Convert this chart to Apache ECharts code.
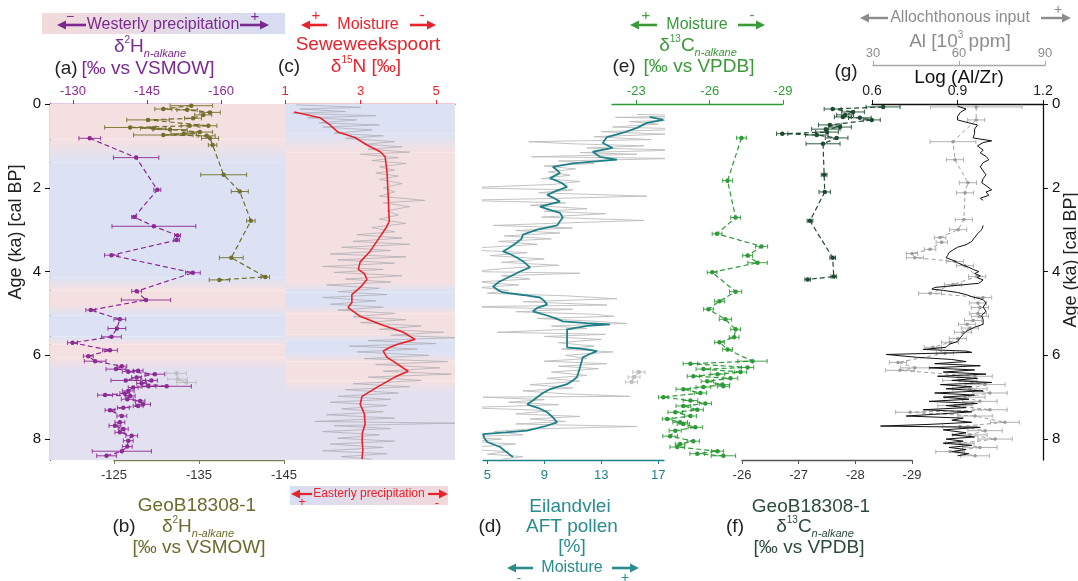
<!DOCTYPE html>
<html><head><meta charset="utf-8">
<script src="https://cdn.jsdelivr.net/npm/echarts@6/dist/echarts.min.js"></script>
<style>html,body{margin:0;padding:0;background:#fff}#c{width:1078px;height:581px}</style>
</head><body><div id="c"></div>
<script>
// ---------------- DATA ----------------
const ageTicks = [0, 2, 4, 6, 8];
const tickA = [-130, -145, -160];
const tickB = [-125, -135, -145];
const tickC = [1, 3, 5];
const tickD = [5, 9, 13, 17];
const tickE = [-23, -26, -29];
const tickF = [-26, -27, -28, -29];
const tickLog = [0.6, 0.9, 1.2];
const tickAl = [30, 60, 90];

// background shading (age stops and colour keys)
const bandAStops = [0, 0.85, 1.4, 4.15, 4.45, 4.8, 5.05, 5.55, 5.75, 6.05, 6.35, 8.5];
const bandAKeys  = ['P','P','B','B','P','P','B','B','P','P','L','L'];
const bandCStops = [0, 0.7, 1.15, 4.25, 4.5, 4.8, 5.0, 5.5, 5.65, 5.95, 6.15, 6.6, 6.9, 8.5];
const bandCKeys  = ['B','B','P','P','B','B','P','P','B','B','P','P','L','L'];

// (a) Westerly dD n-alkane
const aAge = [0.82,1.28,2.05,2.70,2.92,3.14,3.25,3.61,4.03,4.47,4.68,4.92,5.14,5.36,5.56,5.70,5.88,6.02,6.14,6.26,6.33,6.37,6.39,6.45,6.53,6.60,6.60,6.67,6.74,6.74,6.77,6.85,6.91,6.95,6.97,7.05,7.09,7.17,7.21,7.25,7.31,7.45,7.60,7.68,7.76,7.84,7.92,8.04,8.18,8.29,8.40];
const aVal = [-133.4,-142.8,-147.1,-142.4,-146.4,-151.2,-151.0,-137.8,-154.3,-142.9,-144.8,-133.6,-139.5,-138.9,-137.8,-129.9,-137.5,-133.1,-134.5,-139.9,-138.7,-143.2,-141.2,-146.6,-142.9,-140.7,-145.9,-143.9,-149.0,-145.3,-142.2,-141.2,-140.5,-136.5,-141.6,-141.0,-143.6,-144.2,-143.2,-140.2,-137.5,-139.9,-139.5,-138.5,-140.2,-139.5,-141.9,-141.2,-141.0,-139.9,-136.8];
const aErr = [2.2,4.6,0.7,0.5,8.5,0.6,0.6,1.4,1.5,1.0,5.0,1.0,1.2,1.8,2.0,1.0,1.5,1.0,2.2,1.0,2.0,1.0,1.2,2.0,1.0,3.0,1.2,1.0,5.0,1.5,1.0,1.2,1.0,1.5,1.0,1.2,1.0,1.5,1.0,1.2,1.0,1.0,1.0,1.2,1.0,1.0,1.2,1.0,1.0,6.0,2.0];
const aExAge = [6.43, 6.57, 6.65];
const aExVal = [-151.0, -151.2, -153.0];
const aExErr = [2.0, 2.0, 2.0];

// (b) GeoB18308-1 dD n-alkane
const bAge = [0.04,0.12,0.14,0.20,0.26,0.34,0.38,0.52,0.52,0.56,0.58,0.61,0.67,0.71,0.74,0.76,0.82,0.98,1.69,2.09,2.79,3.67,4.13,4.20];
const bVal = [-134.1,-130.8,-133.6,-136.3,-135.5,-134.3,-129.0,-136.1,-133.9,-126.9,-129.6,-131.6,-135.1,-133.2,-130.8,-135.9,-136.3,-136.6,-137.9,-139.8,-141.1,-138.8,-142.8,-137.4];
const bErr = [2.5,1.0,1.2,1.2,1.0,1.0,2.5,1.0,1.0,3.0,1.5,2.0,1.5,1.5,3.5,1.0,1.0,0.5,2.7,1.0,0.5,1.4,0.5,1.2];

// (c) Seweweekspoort d15N : raw and smoothed
const cRawAge = [0.02,0.08,0.12,0.18,0.22,0.28,0.33,0.38,0.45,0.5,0.55,0.62,0.7,0.76,0.82,0.9,0.96,1.02,1.08,1.15,1.2,1.28,1.35,1.42,1.5,1.58,1.65,1.72,1.8,1.9,2.0,2.1,2.2,2.3,2.36,2.45,2.55,2.65,2.75,2.85,2.95,3.05,3.12,3.2,3.28,3.35,3.42,3.5,3.58,3.65,3.72,3.8,3.88,3.95,4.02,4.1,4.18,4.25,4.32,4.4,4.48,4.55,4.62,4.7,4.78,4.85,4.92,5.0,5.08,5.15,5.22,5.3,5.38,5.45,5.52,5.58,5.65,5.72,5.78,5.85,5.92,6.0,6.08,6.15,6.22,6.3,6.38,6.45,6.52,6.6,6.68,6.75,6.82,6.9,6.98,7.05,7.12,7.2,7.28,7.35,7.42,7.5,7.58,7.62,7.68,7.75,7.82,7.9,7.98,8.05,8.12,8.2,8.28,8.35,8.42,8.48];
const cRawVal = [1.3,3.0,1.4,2.6,1.2,3.4,1.6,2.9,1.9,3.5,2.0,3.3,2.3,3.6,2.6,3.9,3.1,4.1,3.2,4.3,3.0,4.0,3.3,4.2,3.5,3.9,3.4,4.0,3.5,4.1,3.6,3.9,3.5,4.7,3.6,4.3,3.7,4.0,3.5,4.2,3.3,3.9,2.9,4.1,2.8,4.3,2.5,3.8,2.2,4.2,2.4,3.9,2.0,3.6,2.3,4.1,2.6,3.8,2.1,3.5,2.4,3.7,2.0,3.4,2.2,3.6,2.4,3.9,2.8,4.2,3.0,4.6,3.5,5.2,3.8,5.5,3.2,5.0,2.7,4.5,2.9,4.8,3.1,5.3,3.4,5.1,3.6,5.4,3.2,4.6,2.8,4.3,2.6,4.0,2.4,3.8,2.2,3.7,2.5,3.6,2.1,3.9,1.8,5.5,2.3,3.8,2.0,3.5,2.4,3.9,2.2,3.6,2.0,3.7,2.5,3.3];
const cAge = [0.19,0.33,0.50,0.67,0.80,0.98,1.14,1.26,1.62,2.17,2.80,2.95,3.28,3.52,3.77,3.95,4.05,4.19,4.38,4.55,4.74,4.86,5.07,5.26,5.45,5.62,5.74,5.82,5.90,6.05,6.14,6.38,6.52,6.76,6.98,7.17,7.40,7.64,7.85,8.05,8.25,8.48];
const cVal = [1.24,1.93,2.19,2.40,2.85,3.17,3.52,3.65,3.70,3.73,3.76,3.68,3.43,3.25,2.99,2.94,3.10,3.17,2.99,2.77,2.77,2.67,2.99,3.52,4.13,4.44,3.96,3.75,3.60,3.70,3.86,4.26,3.91,3.44,3.04,2.99,3.10,3.12,3.05,3.04,3.06,3.04];

// (d) Eilandvlei AFT pollen : raw and smoothed
const dRawAge = [0.25,0.28,0.32,0.36,0.42,0.48,0.55,0.6,0.66,0.72,0.78,0.85,0.9,0.95,1.0,1.05,1.1,1.16,1.2,1.26,1.3,1.36,1.42,1.48,1.55,1.62,1.7,1.78,1.85,1.92,2.0,2.05,2.12,2.2,2.26,2.3,2.36,2.42,2.5,2.56,2.62,2.7,2.78,2.85,2.9,2.96,3.02,3.08,3.15,3.22,3.28,3.35,3.42,3.47,3.55,3.62,3.7,3.78,3.85,3.92,4.0,4.04,4.1,4.18,4.25,4.32,4.38,4.45,4.52,4.58,4.65,4.72,4.8,4.84,4.9,4.96,5.02,5.07,5.12,5.18,5.24,5.3,5.36,5.45,5.5,5.55,5.62,5.7,5.78,5.85,5.92,6.0,6.08,6.14,6.2,6.26,6.32,6.4,6.48,6.55,6.62,6.7,6.78,6.85,6.92,6.98,7.0,7.06,7.12,7.18,7.25,7.32,7.4,7.46,7.52,7.58,7.64,7.7,7.76,7.82,7.9,7.95,8.0,8.06,8.12,8.18,8.24,8.3,8.36,8.42,8.48];
const dRawVal = [15.5,20.0,14.0,21.0,15.0,17.0,13.8,19.5,13.0,17.5,12.5,16.5,7.9,11.0,16.0,12.0,18.5,11.5,15.5,8.1,18.3,10.0,12.5,9.0,11.2,9.3,10.8,8.8,11.5,9.6,3.3,11.0,8.6,16.2,9.0,2.9,10.5,8.0,12.0,9.0,13.3,8.8,16.0,9.5,5.4,11.0,7.0,10.1,6.2,9.5,5.8,8.5,5.0,2.9,7.8,5.2,9.0,6.0,10.0,6.5,3.8,11.5,6.0,8.0,4.2,7.2,4.5,6.5,5.0,10.5,14.1,7.5,13.4,3.3,11.0,7.0,12.5,13.9,8.5,12.2,14.8,9.5,12.0,5.7,13.3,9.0,13.0,10.0,12.5,10.2,13.8,10.5,12.0,9.0,13.4,10.0,12.8,9.5,12.0,9.2,11.5,8.0,11.0,7.5,10.5,15.0,4.7,9.0,6.5,10.0,3.3,9.5,7.0,11.5,8.0,10.5,7.0,15.5,8.0,5.5,7.5,3.1,6.0,4.0,7.0,4.5,3.3,6.5,5.0,7.5,6.0];
const dAge = [0.31,0.38,0.45,0.57,0.68,0.79,0.93,1.05,1.14,1.26,1.33,1.38,1.42,1.50,1.58,1.65,1.77,1.88,1.98,2.08,2.17,2.25,2.33,2.45,2.53,2.60,2.71,2.80,2.90,3.00,3.12,3.22,3.30,3.42,3.52,3.60,3.67,3.78,3.90,4.00,4.12,4.25,4.36,4.45,4.50,4.56,4.62,4.70,4.79,4.87,4.95,5.05,5.12,5.19,5.23,5.26,5.30,5.38,5.60,5.81,5.86,5.90,5.97,6.05,6.30,6.52,6.60,6.69,6.81,6.90,7.00,7.08,7.17,7.26,7.36,7.48,7.60,7.70,7.80,7.84,7.88,7.98,8.07,8.19,8.30,8.43];
const dVal = [16.4,17.35,16.2,15.5,14.6,13.4,13.1,13.8,12.4,12.9,14.1,12.2,11.0,9.6,9.9,10.1,9.4,10.2,10.6,9.8,9.2,9.7,10.1,8.7,9.4,10.1,10.3,10.1,9.9,8.5,7.5,7.4,7.1,6.6,6.1,6.7,7.1,7.6,8.0,7.3,6.6,5.8,5.4,5.8,6.1,7.5,8.7,9.0,9.2,8.5,8.2,9.2,9.8,10.3,12.0,13.6,12.0,10.6,10.6,10.6,12.0,12.7,12.2,11.7,11.5,11.3,11.0,10.6,9.4,8.9,8.5,8.2,7.8,8.6,9.2,9.6,9.9,9.0,7.8,6.3,4.7,4.8,5.0,5.9,6.3,6.8];

// (e) d13C n-alkane (Moisture)
const eAge = [0.81,1.83,2.71,3.10,3.40,3.62,3.79,4.02,4.48,4.71,4.90,5.14,5.38,5.57,5.69,5.86,6.14,6.20,6.29,6.33,6.40,6.45,6.50,6.55,6.62,6.70,6.74,6.76,6.81,6.90,7.00,7.08,7.15,7.21,7.30,7.36,7.45,7.52,7.60,7.64,7.72,7.80,7.93,8.05,8.12,8.19,8.29,8.35,8.40];
const eVal = [-27.30,-26.73,-27.06,-26.30,-28.12,-27.55,-27.96,-26.10,-27.06,-26.40,-25.95,-26.64,-27.06,-27.00,-26.40,-26.73,-27.75,-25.21,-27.55,-25.74,-27.26,-26.32,-25.33,-26.85,-25.90,-26.52,-26.56,-25.74,-24.92,-25.62,-24.10,-25.21,-25.82,-24.92,-25.49,-24.59,-25.21,-24.26,-24.79,-24.92,-25.41,-24.59,-24.38,-25.33,-24.79,-24.67,-26.32,-25.49,-26.56];
const eErr = [0.2,0.2,0.2,0.2,0.25,0.2,0.4,0.2,0.25,0.2,0.2,0.25,0.2,0.2,0.2,0.2,0.6,0.3,0.25,0.3,0.25,0.3,0.25,0.3,0.25,0.3,0.25,0.3,0.3,0.25,0.2,0.3,0.25,0.3,0.25,0.3,0.25,0.2,0.3,0.25,0.3,0.25,0.3,0.25,0.2,0.3,0.25,0.3,0.5];
const eExAge = [6.40, 6.52, 6.64];
const eExVal = [-23.1, -22.9, -22.8];
const eExErr = [0.25, 0.25, 0.25];

// (f) GeoB18308-1 d13C n-alkane
const fAge = [0.07,0.12,0.19,0.26,0.31,0.33,0.38,0.50,0.55,0.60,0.67,0.71,0.74,0.81,0.95,1.69,2.10,2.79,3.67,4.12,4.19];
const fVal = [-28.49,-27.60,-27.96,-27.82,-27.78,-28.08,-28.29,-27.55,-27.73,-27.48,-27.50,-26.71,-27.32,-27.67,-27.43,-27.45,-27.46,-27.20,-27.60,-27.62,-27.16];
const fErr = [0.3,0.15,0.2,0.15,0.15,0.2,0.15,0.2,0.2,0.25,0.2,0.1,0.2,0.2,0.3,0.05,0.1,0.05,0.05,0.05,0.05];

// (g) Al [10^3 ppm] and Log(Al/Zr)
const gAlAge = [0.07,0.38,0.90,1.33,1.88,2.12,2.76,3.00,3.19,3.30,3.47,3.57,3.67,3.76,3.86,4.12,4.31,4.52,4.62,4.75,4.86,5.00,5.07,5.17,5.26,5.35,5.45,5.60,5.69,5.81,5.95,6.17,6.30,6.36,6.50,6.60,6.70,6.80,6.90,7.00,7.10,7.20,7.30,7.36,7.45,7.60,7.70,7.80,7.90,8.00,8.10,8.20,8.30,8.40];
const gAlVal = [66.0,66.0,57.9,58.6,63.1,62.1,61.7,59.7,53.4,54.0,49.9,43.6,44.6,58.6,62.1,66.3,57.9,49.9,68.4,66.6,67.3,66.6,67.3,64.9,62.8,63.8,61.4,59.6,56.9,50.9,55.1,38.7,44.6,39.4,65.6,60.3,69.1,63.8,70.8,62.1,67.3,58.6,70.8,42.9,65.6,76.0,60.3,69.1,63.8,72.6,60.3,67.3,56.9,65.6];
const gAlErr = [16,3,8,3,3,3,3,3,2,2,2,2,3,3,3,3,3,4,3,3,3,3,3,3,3,3,3,3,3,3,3,3,5,5,6,6,7,6,6,7,6,6,6,5,6,5,6,6,6,6,5,6,5,5];
const gLogAge = [0.05,0.12,0.2,0.3,0.38,0.45,0.5,0.6,0.7,0.81,0.88,0.92,1.0,1.1,1.17,1.25,1.33,1.4,1.5,1.6,1.69,1.78,1.88,1.95,2.05,2.1,2.18,2.25,2.3,2.6,2.9,3.0,3.1,3.19,3.28,3.36,3.42,3.48,3.55,3.62,3.67,3.72,3.79,3.85,3.9,3.95,4.0,4.05,4.1,4.15,4.2,4.24,4.28,4.33,4.38,4.42,4.45,4.5,4.55,4.6,4.67,4.75,4.85,4.95,5.05,5.15,5.26,5.33,5.43,5.5,5.58,5.67,5.74,5.81,5.86,5.9,5.93,5.98,6.05,6.1,6.15,6.2,6.25,6.3,6.35,6.4,6.45,6.5,6.55,6.6,6.65,6.7,6.75,6.8,6.85,6.9,6.95,7.0,7.05,7.1,7.15,7.2,7.25,7.3,7.35,7.4,7.45,7.5,7.55,7.6,7.65,7.69,7.72,7.78,7.85,7.9,7.95,8.0,8.05,8.1,8.15,8.2,8.25,8.3,8.35,8.4];
const gLogVal = [0.90,0.93,0.91,0.90,0.90,0.94,0.97,0.96,0.96,0.955,1.02,0.99,0.97,0.99,0.98,1.0,1.01,0.99,0.98,0.99,1.0,0.99,0.985,1.0,1.02,1.0,1.01,0.98,0.99,null,0.99,0.985,0.97,0.96,0.95,0.93,0.90,0.885,0.87,0.865,0.86,0.88,0.90,0.92,0.94,0.955,0.975,0.96,0.98,0.97,0.99,0.99,0.975,0.90,0.82,0.81,0.85,0.90,0.93,0.95,0.99,1.0,0.99,1.0,0.985,0.99,0.99,0.96,0.93,0.92,0.91,0.90,0.87,0.86,0.78,0.93,0.95,0.65,0.76,0.88,0.93,0.82,0.98,0.80,0.96,0.85,1.0,0.83,0.97,0.88,1.02,0.84,0.95,0.86,0.99,0.82,0.96,0.85,0.94,0.80,0.97,0.86,0.93,0.78,0.95,0.84,0.72,0.92,0.88,0.95,0.80,0.63,0.98,0.85,0.93,0.88,0.96,0.86,0.92,0.85,0.95,0.87,0.93,0.88,0.94,0.90];

// ---------------- STYLE ----------------
const FONT = "'Liberation Sans', Arial, Helvetica, sans-serif";
const C = {
  purple:'#8b2b93', purpleT:'#7a2a8c', olive:'#70702a', oliveT:'#6b6b2e', red:'#e8232b',
  teal:'#1f8088', tealT:'#2a8c8c', green:'#2e9a38', greenT:'#3a9a3a', dark:'#1d4a30', darkT:'#2b4a3a',
  gray:'#8c8c8c', raw:'#bcbcbc'
};
const BG = {P:'#f5e0e1', B:'#dce2f4', L:'#e3e0ef'};

function bands(stops, keys) {
  const out = [];
  for (let i = 0; i < stops.length - 1; i++) {
    out.push([{yAxis: stops[i], itemStyle: {color: {type:'linear', x:0, y:0, x2:0, y2:1,
      colorStops:[{offset:0, color:BG[keys[i]]},{offset:1, color:BG[keys[i+1]]}]}}}, {yAxis: stops[i+1]}]);
  }
  return out;
}
const zip = (v, a) => v.map((x, i) => [x, a[i]]);
const zip3 = (v, a, e) => v.map((x, i) => [x, a[i], e[i] == null ? 0 : e[i]]);

function errBars(idx, vals, ages, errs, color, z) {
  return {type:'custom', xAxisIndex:idx, yAxisIndex:idx, z: z || 3, silent:true,
    data: zip3(vals, ages, errs), encode:{x:0, y:1},
    renderItem: function (params, api) {
      const v = api.value(0), a = api.value(1), e = api.value(2);
      const p1 = api.coord([v - e, a]), p2 = api.coord([v + e, a]);
      const h = 2.2, st = {stroke: color, lineWidth: 0.9};
      return {type:'group', children:[
        {type:'line', shape:{x1:p1[0], y1:p1[1], x2:p2[0], y2:p2[1]}, style:st},
        {type:'line', shape:{x1:p1[0], y1:p1[1]-h, x2:p1[0], y2:p1[1]+h}, style:st},
        {type:'line', shape:{x1:p2[0], y1:p2[1]-h, x2:p2[0], y2:p2[1]+h}, style:st}]};
    }};
}
function dashed(idx, vals, ages, color, z) {
  return {type:'line', xAxisIndex:idx, yAxisIndex:idx, z: z || 4, silent:true, data: zip(vals, ages),
    symbol:'circle', symbolSize:4.5, itemStyle:{color}, lineStyle:{color, width:1.2, type:[5,3]}, animation:false};
}
function xAx(grid, min, max, pos, color, ticks, extra) {
  return Object.assign({gridIndex:grid, type:'value', min, max, position:pos,
    axisLine:{show:true, onZero:false, lineStyle:{color, width:1.3}},
    axisTick:{show:true, customValues:ticks, length:4, lineStyle:{color}},
    axisLabel:{customValues:ticks, color, fontSize:13, fontFamily:FONT, margin: pos === 'top' ? 6 : 9},
    splitLine:{show:false}}, extra || {});
}
function yAx(grid, show, pos) {
  const o = {gridIndex:grid, type:'value', min:0, max:8.5, inverse:true, show:!!show, position: pos || 'left', splitLine:{show:false}};
  if (show) {
    o.axisLine = {show:true, lineStyle:{color:'#111', width:1.3}};
    o.axisTick = {show:true, customValues:ageTicks, length:5, lineStyle:{color:'#111'}};
    o.axisLabel = {customValues:ageTicks, color:'#111', fontSize:15, fontFamily:FONT, margin:9};
  }
  return o;
}

// graphic helpers (decorative labels)
function T(x, y, text, color, size, rot) {
  const o = {type:'text', x, y, silent:true, z:20, style:{text, fill:color, fontSize:size, fontFamily:FONT, align:'center', verticalAlign:'middle'}};
  if (rot) o.rotation = rot;
  return o;
}
function RT(x, y, segs, color, size) {
  const rich = {
    m:{fontSize:size, fontFamily:FONT, fill:color, lineHeight:size + 5},
    u:{fontSize:Math.round(size*0.55), fontFamily:FONT, fill:color, lineHeight:Math.round(size*0.75), verticalAlign:'top'},
    d:{fontSize:Math.round(size*0.58), fontFamily:FONT, fontStyle:'italic', fill:color, lineHeight:Math.round(size*0.75), verticalAlign:'bottom'}
  };
  const text = segs.map(s => '{' + s[1] + '|' + s[0] + '}').join('');
  return {type:'text', x, y, silent:true, z:20, style:{text, rich, align:'center', verticalAlign:'middle'}};
}
function arrow(x1, x2, y, color, w) {
  const dir = x2 > x1 ? 1 : -1, hl = 9, hw = 4.5;
  return [
    {type:'line', silent:true, z:20, shape:{x1, y1:y, x2:x2 - dir*hl*0.8, y2:y}, style:{stroke:color, lineWidth:w || 2.6}},
    {type:'polygon', silent:true, z:20, shape:{points:[[x2, y],[x2 - dir*hl, y - hw],[x2 - dir*hl, y + hw]]}, style:{fill:color}}];
}
function gradRect(x, y, w, h, c1, c2) {
  return {type:'rect', silent:true, z:1, shape:{x, y, width:w, height:h},
    style:{fill:{type:'linear', x:0, y:0, x2:1, y2:0, colorStops:[{offset:0, color:c1},{offset:1, color:c2}]}}};
}

const graphics = [
  // (a) header
  gradRect(42, 13, 243, 21, '#f3dada', '#d6dcf3'),
  ...arrow(86, 57, 25, C.purpleT), T(70, 17, '−', C.purpleT, 14),
  T(163, 25, 'Westerly precipitation', C.purpleT, 16),
  ...arrow(240, 269, 25, C.purpleT), T(255, 17, '+', C.purpleT, 15),
  RT(150, 47, [['δ','m'],['2','u'],['H','m'],['n-alkane','d']], C.purpleT, 19),
  T(66, 69, '(a)', '#222', 19), T(148, 69, '[‰ vs VSMOW]', C.purpleT, 19),
  // (c) header
  ...arrow(327, 301, 25, C.red), T(316, 16, '+', C.red, 15),
  T(368, 25, 'Moisture', C.red, 16),
  ...arrow(410, 436, 25, C.red), T(422, 16, '-', C.red, 15),
  T(368, 45, 'Seweweekspoort', C.red, 19),
  T(289, 67, '(c)', '#222', 19),
  RT(366, 67, [['δ','m'],['15','u'],['N [‰]','m']], C.red, 19),
  // (e) header
  ...arrow(657, 630, 25, C.greenT), T(646, 16, '+', C.greenT, 15),
  T(697, 25, 'Moisture', C.greenT, 16),
  ...arrow(738, 765, 25, C.greenT), T(752, 16, '-', C.greenT, 15),
  RT(698, 46, [['δ','m'],['13','u'],['C','m'],['n-alkane','d']], C.greenT, 19),
  T(624, 67, '(e)', '#222', 19), T(699, 67, '[‰ vs VPDB]', C.greenT, 19),
  // (g) header
  ...arrow(888, 860, 18, '#8c8c8c', 2.4),
  T(960, 18, 'Allochthonous input', '#8c8c8c', 16),
  ...arrow(1041, 1071, 18, '#8c8c8c', 2.4), T(1058, 10, '+', '#8c8c8c', 14),
  RT(960, 42, [['Al [10','m'],['3','u'],[' ppm]','m']], '#8c8c8c', 19),
  T(846, 72, '(g)', '#222', 19),
  T(959, 78, 'Log (Al/Zr)', '#111', 19),
  // age titles
  T(16, 232, 'Age (ka) [cal BP]', '#222', 18, Math.PI / 2),
  T(1071, 260, 'Age (ka) [cal BP]', '#222', 18, Math.PI / 2),
  // (b) footer
  T(197, 506, 'GeoB18308-1', C.oliveT, 19),
  T(124, 527, '(b)', '#222', 19),
  RT(198, 527, [['δ','m'],['2','u'],['H','m'],['n-alkane','d']], C.oliveT, 19),
  T(199, 548, '[‰ vs VSMOW]', C.oliveT, 19),
  // easterly precipitation
  gradRect(290, 486, 158, 19, '#d8def3', '#f3d9da'),
  ...arrow(312, 291, 494, C.red, 2.2), T(302, 503, '+', C.red, 12),
  T(369, 494, 'Easterly precipitation', C.red, 12),
  ...arrow(428, 448, 494, C.red, 2.2), T(437, 503, '-', C.red, 13),
  // (d) footer
  T(570, 507, 'Eilandvlei', C.tealT, 19),
  T(490, 527, '(d)', '#222', 19),
  T(572, 527, 'AFT pollen', C.tealT, 19),
  T(572, 547, '[%]', C.tealT, 19),
  ...arrow(533, 507, 568, C.tealT), T(519, 578, '-', C.tealT, 13),
  T(572, 568, 'Moisture', C.tealT, 16),
  ...arrow(612, 639, 568, C.tealT), T(625, 578, '+', C.tealT, 14),
  // (f) footer
  T(811, 507, 'GeoB18308-1', C.darkT, 19),
  T(735, 527, '(f)', '#222', 19),
  RT(815, 527, [['δ','m'],['13','u'],['C','m'],['n-alkane','d']], C.darkT, 19),
  T(809, 548, '[‰ vs VPDB]', C.darkT, 19)
];

const G = (left, width) => ({left, top:104, width, height:356, containLabel:false});
const option = {
  animation:false,
  backgroundColor:'#fff',
  grid:[G(50,235), G(285,170), G(50,171), G(114,170), G(483,181), G(612,171), G(742,170), G(872,171), G(873,172)],
  xAxis:[
    {gridIndex:0, type:'value', min:0, max:1, show:false},
    xAx(1, 1, 5.5, 'top', C.red, tickC),
    xAx(2, -160, -125.34, 'top', C.purple, tickA, {inverse:true}),
    xAx(3, -145, -125, 'bottom', '#7d7d55', tickB, {inverse:true, axisLabel:{customValues:tickB, color:'#333', fontSize:13, fontFamily:FONT, margin:9}}),
    xAx(4, 4.7, 17.4, 'bottom', C.teal, tickD),
    xAx(5, -29, -22, 'top', C.green, tickE, {inverse:true}),
    xAx(6, -29, -26, 'bottom', '#555', tickF, {inverse:true, axisLabel:{customValues:tickF, color:'#333', fontSize:13, fontFamily:FONT, margin:9}}),
    xAx(7, 0.6, 1.2, 'top', '#111', tickLog, {axisLabel:{customValues:tickLog, color:'#222', fontSize:14, fontFamily:FONT, margin:6, formatter:v => v.toFixed(1)}}),
    xAx(8, 30, 90, 'top', '#a8a8a8', tickAl, {offset:39, axisLabel:{customValues:tickAl, color:'#8c8c8c', fontSize:13, fontFamily:FONT, margin:5}})
  ],
  yAxis:[yAx(0, true, 'left'), yAx(1), yAx(2), yAx(3), yAx(4), yAx(5), yAx(6), yAx(7, true, 'right'), yAx(8)],
  graphic: graphics,
  series:[
    {type:'line', xAxisIndex:0, yAxisIndex:0, z:0, data:[[0.5, 0]], symbol:'none', lineStyle:{opacity:0},
      markArea:{silent:true, data: bands(bandAStops, bandAKeys)}},
    {type:'line', xAxisIndex:1, yAxisIndex:1, z:0, data:[[3, 0]], symbol:'none', lineStyle:{opacity:0},
      markArea:{silent:true, data: bands(bandCStops, bandCKeys)}},
    // (c)
    {type:'line', xAxisIndex:1, yAxisIndex:1, z:2, data: zip(cRawVal, cRawAge), symbol:'none', lineStyle:{color:'#b0b0b8', width:0.8}},
    {type:'line', xAxisIndex:1, yAxisIndex:1, z:3, data: zip(cVal, cAge), symbol:'none', lineStyle:{color:C.red, width:1.6}},
    // (a)
    errBars(2, aExVal, aExAge, aExErr, '#c0c0c0', 3),
    dashed(2, aExVal, aExAge, '#c0c0c0', 3),
    errBars(2, aVal, aAge, aErr, C.purple),
    dashed(2, aVal, aAge, C.purple),
    // (b)
    errBars(3, bVal, bAge, bErr, C.olive),
    dashed(3, bVal, bAge, C.olive),
    // (d)
    {type:'line', xAxisIndex:4, yAxisIndex:4, z:2, clip:false, data: zip(dRawVal, dRawAge), symbol:'none', lineStyle:{color:C.raw, width:0.9}},
    {type:'line', xAxisIndex:4, yAxisIndex:4, z:3, clip:false, data: zip(dVal, dAge), symbol:'none', lineStyle:{color:C.teal, width:1.8}},
    // (e)
    errBars(5, eExVal, eExAge, eExErr, '#c0c0c0', 3),
    dashed(5, eExVal, eExAge, '#c0c0c0', 3),
    errBars(5, eVal, eAge, eErr, C.green),
    dashed(5, eVal, eAge, C.green),
    // (f)
    errBars(6, fVal, fAge, fErr, C.dark),
    dashed(6, fVal, fAge, C.dark),
    // (g)
    errBars(8, gAlVal, gAlAge, gAlErr, '#a8a8a8', 2),
    Object.assign(dashed(8, gAlVal, gAlAge, '#9a9a9a', 2), {symbolSize:3.5, lineStyle:{color:'#a0a0a0', width:1, type:[4,3]}}),
    {type:'line', xAxisIndex:7, yAxisIndex:7, z:4, connectNulls:false, data: zip(gLogVal, gLogAge), symbol:'none', lineStyle:{color:'#111', width:1}}
  ]
};
const chart = echarts.init(document.getElementById('c'), null, {renderer:'canvas'});
chart.setOption(option);
</script></body></html>
